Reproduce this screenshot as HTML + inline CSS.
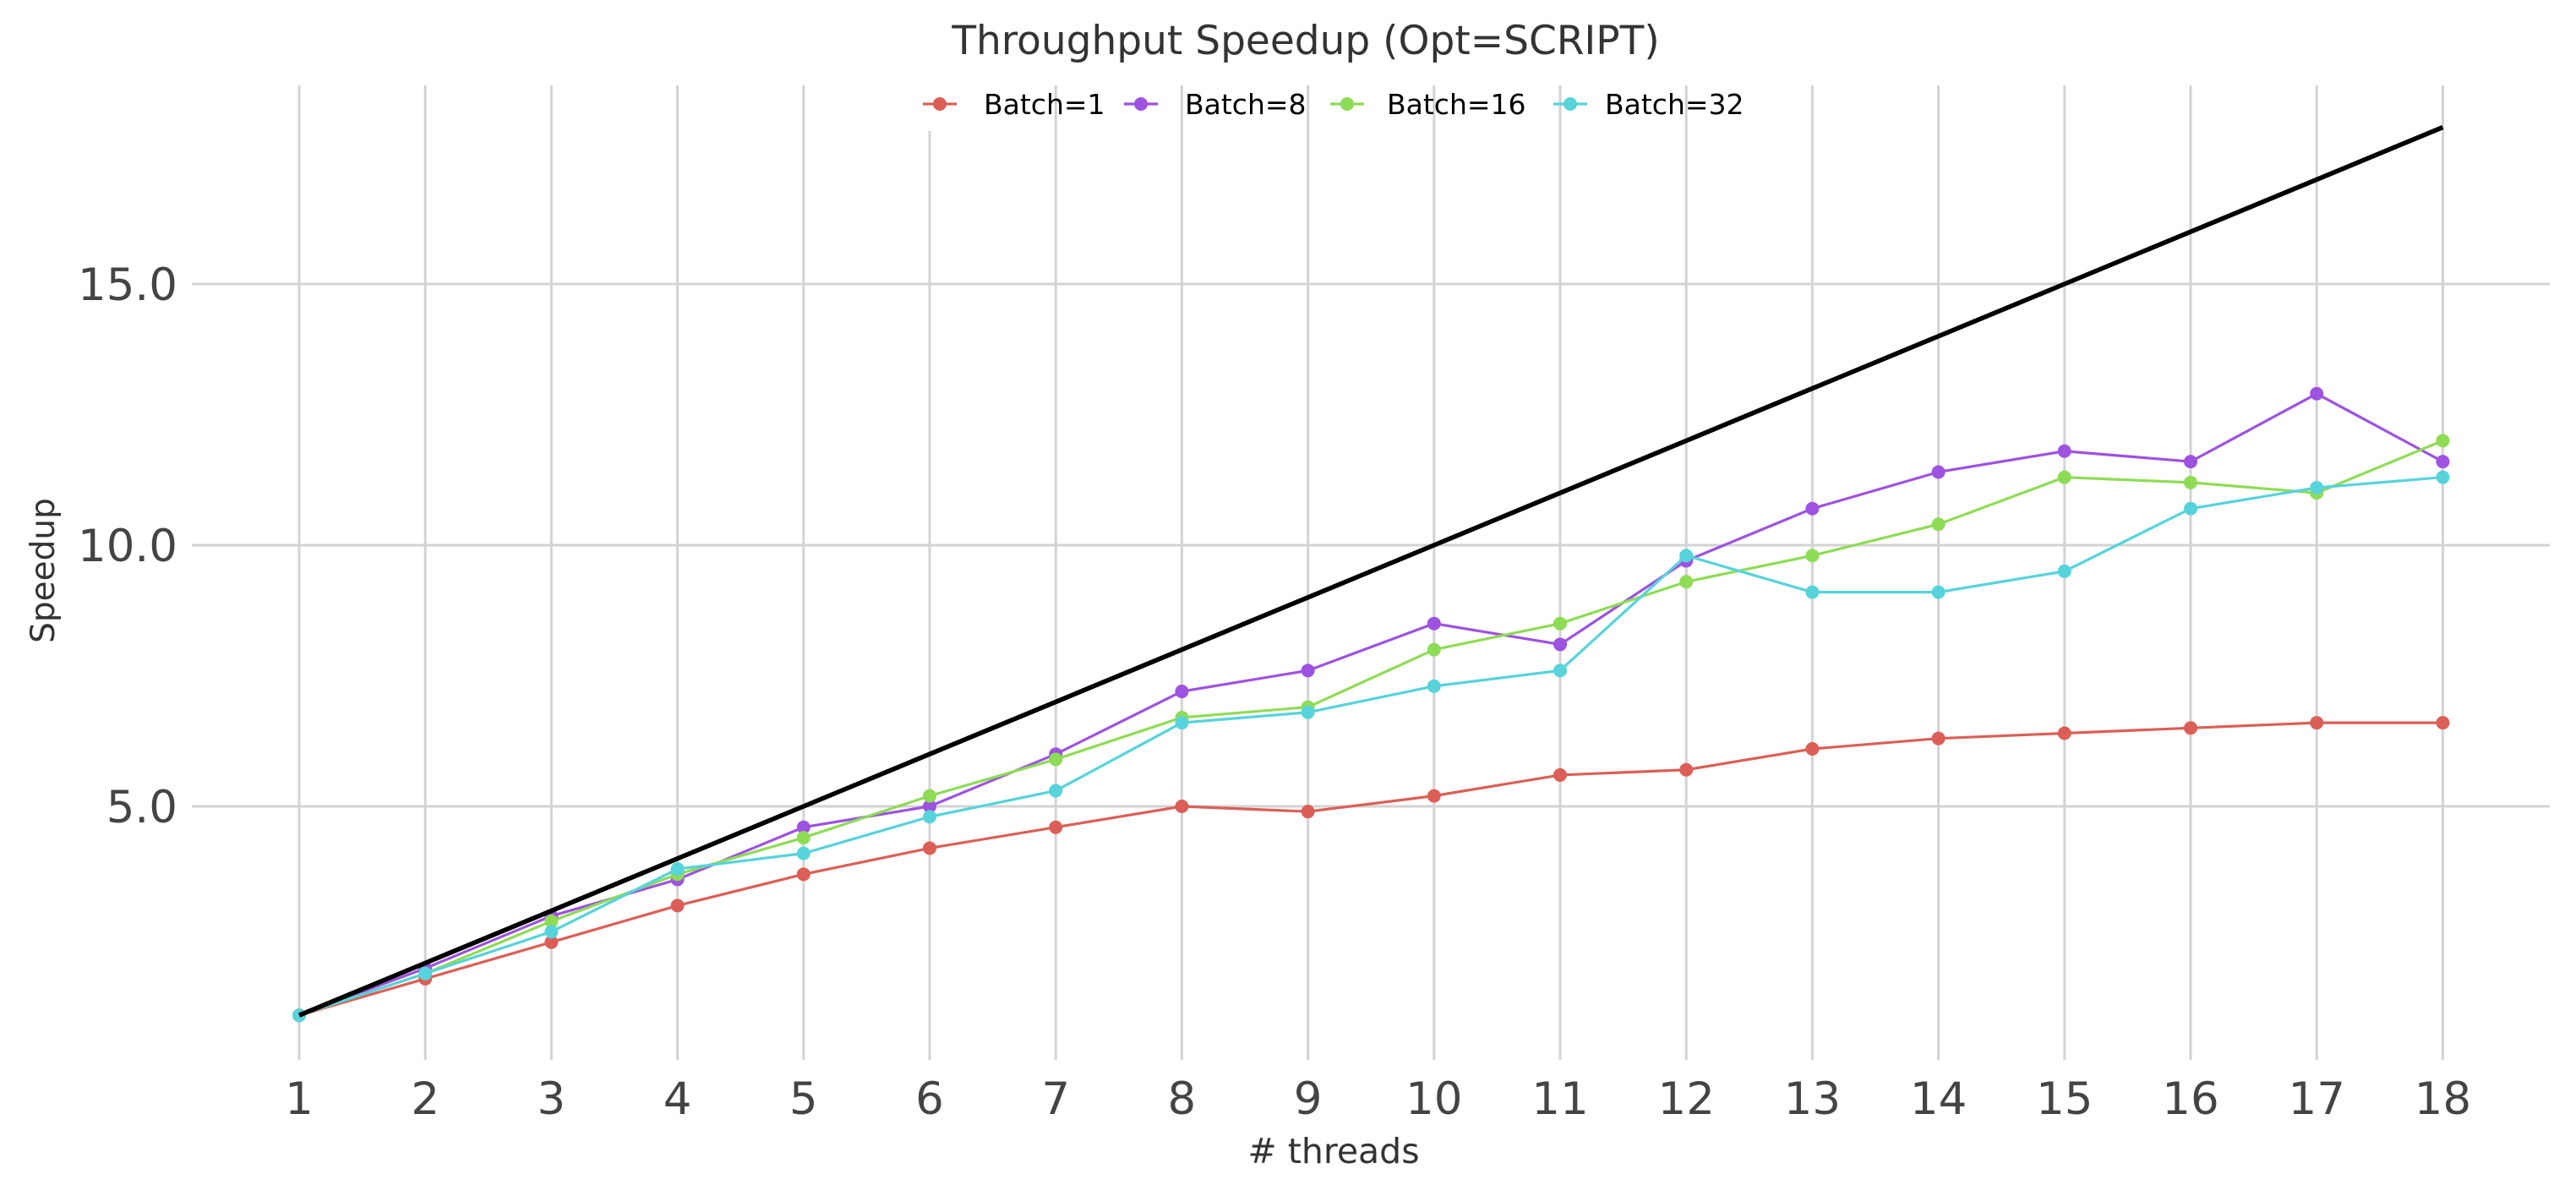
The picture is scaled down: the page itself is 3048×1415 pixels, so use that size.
<!DOCTYPE html>
<html><head><meta charset="utf-8"><style>
body{margin:0;background:#fff}
svg{display:block;font-family:"DejaVu Sans","Liberation Sans",sans-serif}
</style></head><body>
<svg id="chart" width="3048" height="1415" viewBox="0 0 3048 1415" xmlns="http://www.w3.org/2000/svg">
<rect width="3048" height="1415" fill="#fff"/>
<g id="grid"></g>
<g id="marks"></g>
<g id="axes"></g>
<text x="1545" y="64" text-anchor="middle" font-size="47" fill="#333">Throughput Speedup (Opt=SCRIPT)</text>
<text x="1578" y="1376" text-anchor="middle" font-size="41" fill="#333"># threads</text>
<text transform="translate(64,675) rotate(-90)" text-anchor="middle" font-size="39" fill="#333">Speedup</text>
<g id="legend"></g>
</svg>
<script>
const threads=[1,2,3,4,5,6,7,8,9,10,11,12,13,14,15,16,17,18];
const batch1=[1,1.7,2.4,3.1,3.7,4.2,4.6,5.0,4.9,5.2,5.6,5.7,6.1,6.3,6.4,6.5,6.6,6.6];
const batch8=[1,1.9,2.9,3.6,4.6,5.0,6.0,7.2,7.6,8.5,8.1,9.7,10.7,11.4,11.8,11.6,12.9,11.6];
const batch16=[1,1.8,2.8,3.7,4.4,5.2,5.9,6.7,6.9,8.0,8.5,9.3,9.8,10.4,11.3,11.2,11.0,12.0];
const batch32=[1,1.8,2.6,3.8,4.1,4.8,5.3,6.6,6.8,7.3,7.6,9.8,9.1,9.1,9.5,10.7,11.1,11.3];
const ideal=[1,2,3,4,5,6,7,8,9,10,11,12,13,14,15,16,17,18];
const yTicks=[5,10,15];
const yTickLabels=["5.0","10.0","15.0"];
const seriesNames=["Batch=1","Batch=8","Batch=16","Batch=32"];
const NS="http://www.w3.org/2000/svg";
const X=v=>354+(v-1)*149.2;
const Y=v=>954-(v-5)*61.8;
function mk(tag,attrs,parent){const e=document.createElementNS(NS,tag);for(const k in attrs)e.setAttribute(k,attrs[k]);parent.appendChild(e);return e;}
const grid=document.getElementById('grid'),marks=document.getElementById('marks'),axes=document.getElementById('axes'),legend=document.getElementById('legend');
yTicks.forEach((t,i)=>{
 const l=mk('line',{x1:227,x2:3017,y1:Y(t),y2:Y(t),stroke:'#d3d3d3','stroke-width':3},grid);
 
 
 const tx=mk('text',{x:210,y:Y(t)+19,'text-anchor':'end','font-size':53,fill:'#444'},axes);
 
 
 tx.textContent=yTickLabels[i];
});
threads.forEach(t=>{
 const l=mk('line',{x1:X(t),x2:X(t),y1:t===6?155:101,y2:1254,stroke:'#d3d3d3','stroke-width':3},grid);
 
 
 const tx=mk('text',{x:X(t),y:1318,'text-anchor':'middle','font-size':53,fill:'#444'},axes);
 
 
 tx.textContent=t;
});
const series=[batch1,batch8,batch16,batch32];
const colors=['#db5f57','#9e52e0','#8edc55','#57d3db'];
function pts(arr){return arr.map((v,i)=>X(threads[i])+','+Y(v)).join(' ');}
series.forEach((s,k)=>{
 const g=mk('g',{},marks);
 
 
 const pl=mk('polyline',{points:pts(s),fill:'none',stroke:colors[k],'stroke-width':3.2},g);
 
 
 s.forEach((v,i)=>{
  const c=mk('circle',{cx:X(threads[i]),cy:Y(v),r:8,fill:colors[k]},g);
  
  
 });
});
const il=mk('polyline',{points:pts(ideal),fill:'none',stroke:'#000','stroke-width':5.5},marks);


const lx=[1092,1330,1574,1838];
const tx0=[1164,1402,1641,1899];
seriesNames.forEach((n,k)=>{
 const g=mk('g',{},legend);
 
 
 mk('line',{x1:lx[k],x2:lx[k]+40,y1:123,y2:123,stroke:colors[k],'stroke-width':3.2},g);
 mk('circle',{cx:lx[k]+20,cy:123,r:8,fill:colors[k]},g);
 const t=mk('text',{x:tx0[k],y:135,'font-size':33,fill:'#000'},g);
 t.textContent=n;
});
</script>
</body></html>
